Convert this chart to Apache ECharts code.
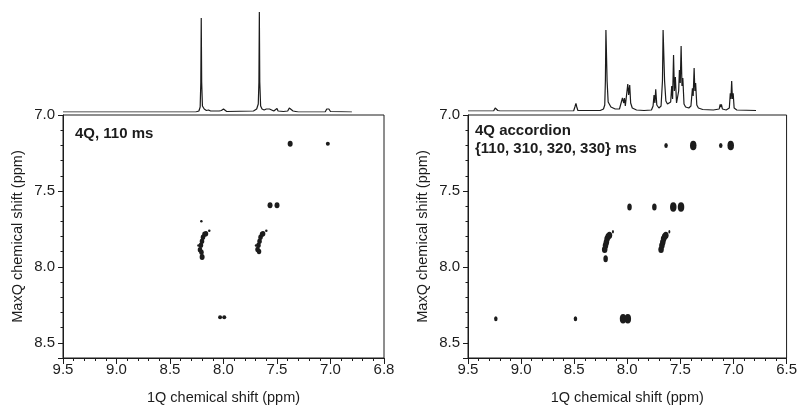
<!DOCTYPE html>
<html>
<head>
<meta charset="utf-8">
<script src="https://cdn.jsdelivr.net/npm/echarts@6/dist/echarts.min.js"></script>
<style>
html,body{margin:0;padding:0;background:#fff;}
#chart{width:800px;height:410px;}
</style>
</head>
<body>
<div id="chart"></div>
<script>
// ---- Data ----
const xTickValues = [9.5, 9.0, 8.5, 8.0, 7.5, 7.0, 6.5];
const leftXTickLabels = ['9.5', '9.0', '8.5', '8.0', '7.5', '7.0', '6.8'];
const rightXTickLabels = ['9.5', '9.0', '8.5', '8.0', '7.5', '7.0', '6.5'];
const yTickLabels = ['7.0', '7.5', '8.0', '8.5'];

const leftTitle = '4Q, 110 ms';
const rightTitle = ['4Q accordion', '{110, 310, 320, 330} ms'];
const xAxisTitle = '1Q chemical shift (ppm)';
const yAxisTitle = 'MaxQ chemical shift (ppm)';

// 1D projections [ppm, intensity]
const leftSpectrum = [
  [9.50,0],[9.245,0],[9.235,1.5],[9.225,0],
  [8.50,0],[8.49,1.5],[8.48,0],
  [8.26,0],[8.23,1],[8.218,5],[8.212,30],[8.208,94],[8.204,30],[8.197,6],[8.18,3],[8.16,1.5],[8.14,2],[8.12,1],[8.09,1],
  [8.04,1],[8.03,3],[8.02,1.5],[8.00,3],[7.99,1],[7.97,0.5],
  [7.72,1],[7.69,3],[7.675,8],[7.669,30],[7.665,100],[7.661,30],[7.653,6],[7.64,3],[7.62,2],[7.60,3],[7.59,1.5],[7.57,3],[7.56,1.5],[7.53,1],[7.50,3.5],[7.49,1],[7.44,0.5],
  [7.40,1],[7.385,4],[7.377,6],[7.37,4],[7.35,1],[7.30,0],
  [7.14,0],[7.13,1],[7.12,0],
  [7.05,0],[7.035,3],[7.025,5],[7.015,3],[7.00,0.5],[6.80,0]
];
const rightSpectrum = [
  [9.50,0],[9.26,0],[9.245,3],[9.238,5],[9.23,3],[9.22,0.5],[9.20,0],
  [8.63,0],[8.62,1],[8.61,0],
  [8.51,0],[8.498,4],[8.488,7.7],[8.48,4],[8.47,0.5],
  [8.26,0.5],[8.23,2],[8.218,6],[8.212,30],[8.207,81],[8.201,81],[8.196,30],[8.186,9],[8.16,4],[8.12,2],[8.08,2],
  [8.062,4],[8.052,13],[8.046,14],[8.04,8],[8.033,13],[8.025,5],[8.012,6],[8.002,27],[7.994,16],[7.984,26],[7.975,8],[7.96,3],[7.92,1],[7.85,0.5],
  [7.78,1],[7.765,5],[7.756,16],[7.748,8],[7.74,21.7],[7.73,6],[7.71,3],
  [7.69,5],[7.677,30],[7.671,81],[7.664,81],[7.657,30],[7.645,10],[7.63,7],[7.615,5],[7.60,9],[7.59,25],[7.582,12],[7.573,56],[7.565,20],[7.556,34],[7.545,8],[7.535,6],[7.525,20],[7.518,41],[7.51,28],[7.502,65],[7.494,25],[7.486,33],[7.475,7],[7.46,4],[7.43,3],
  [7.41,5],[7.396,22.7],[7.389,15],[7.38,43],[7.373,20],[7.366,28],[7.355,6],[7.34,3],[7.30,1.5],[7.20,1],
  [7.145,2],[7.136,6.7],[7.13,4],[7.124,6.7],[7.115,2],[7.08,1],
  [7.05,3],[7.041,17.7],[7.035,12],[7.028,30],[7.021,12],[7.014,17.7],[7.005,3],[6.98,1],[6.80,0.5]
];

// 2D cross peaks [1Q ppm, MaxQ ppm]
const leftLargePeaks = [[7.377,7.19],[7.565,7.595],[7.50,7.595],[8.20,7.935]];
const leftSmallPeaks = [[7.025,7.19],[8.032,8.331],[7.993,8.331]];
const leftTinyPeaks = [[8.207,7.70],[8.133,7.762],[7.60,7.762],[8.234,7.86],[7.696,7.86]];
const leftClusterPeaks = [
  [8.22,7.888],[8.211,7.857],[8.201,7.831],[8.192,7.805],[8.178,7.786],[8.164,7.782],[8.206,7.903],
  [7.682,7.885],[7.673,7.857],[7.663,7.831],[7.654,7.805],[7.640,7.786],[7.630,7.782],[7.668,7.898]
];
const rightLargePeaks = [[7.379,7.20],[7.026,7.20],[7.567,7.606],[7.494,7.606],[8.04,8.342],[7.995,8.342]];
const rightMediumPeaks = [[7.979,7.606],[7.745,7.606],[8.204,7.946]];
const rightSmallPeaks = [[7.635,7.20],[7.12,7.20],[9.238,8.342],[8.488,8.342]];
const rightTinyPeaks = [[8.135,7.769],[7.604,7.769]];
const rightClusterPeaks = [
  [8.213,7.885],[8.205,7.86],[8.197,7.838],[8.19,7.815],[8.18,7.80],[8.168,7.791],
  [7.682,7.885],[7.674,7.86],[7.666,7.838],[7.658,7.815],[7.648,7.80],[7.637,7.791]
];

// ---- Chart ----
const FONT = '"Liberation Sans", Arial, Helvetica, sans-serif';
const INK = '#1c1c1c';

function mainX(gridIndex, labels) {
  return {
    type: 'value', gridIndex: gridIndex, inverse: true,
    min: 6.5, max: 9.5, interval: 0.5,
    name: xAxisTitle, nameLocation: 'middle', nameGap: 32,
    nameTextStyle: {fontFamily: FONT, fontSize: 14.5, color: INK},
    axisLine: {show: true, onZero: false, lineStyle: {color: INK, width: 1}},
    axisTick: {show: true, length: 6, lineStyle: {color: INK}},
    minorTick: {show: true, splitNumber: 5, length: 3, lineStyle: {color: INK}},
    splitLine: {show: false},
    axisLabel: {
      fontFamily: FONT, fontSize: 15, color: INK, margin: 4,
      formatter: function (v) {
        const i = xTickValues.findIndex(t => Math.abs(t - v) < 1e-6);
        return i >= 0 ? labels[i] : '';
      }
    }
  };
}
function mainY(gridIndex) {
  return {
    type: 'value', gridIndex: gridIndex, inverse: true,
    min: 7.0, max: 8.6, interval: 0.5,
    name: yAxisTitle, nameLocation: 'middle', nameGap: 38,
    nameTextStyle: {fontFamily: FONT, fontSize: 14.5, color: INK},
    axisLine: {show: true, onZero: false, lineStyle: {color: INK, width: 1}},
    axisTick: {show: true, length: 5, lineStyle: {color: INK}},
    minorTick: {show: true, splitNumber: 5, length: 2.5, lineStyle: {color: INK}},
    splitLine: {show: false},
    axisLabel: {
      fontFamily: FONT, fontSize: 15, color: INK, margin: 8,
      formatter: function (v) {
        const s = v.toFixed(1);
        return (yTickLabels.indexOf(s) >= 0 && Math.abs(v * 2 - Math.round(v * 2)) < 1e-6) ? s : '';
      }
    }
  };
}
function specX(gridIndex) {
  return {type: 'value', gridIndex: gridIndex, inverse: true, min: 6.5, max: 9.5, show: false};
}
function specY(gridIndex) {
  return {type: 'value', gridIndex: gridIndex, min: 0, max: 100, show: false};
}
function peaks(data, xi, size) {
  return {
    type: 'scatter', xAxisIndex: xi, yAxisIndex: xi, data: data,
    symbol: 'circle', symbolSize: size,
    itemStyle: {color: INK, opacity: 1}, silent: true, animation: false
  };
}
function spectrum(data, idx) {
  return {
    type: 'line', xAxisIndex: idx, yAxisIndex: idx, data: data,
    showSymbol: false, symbol: 'none', smooth: false,
    lineStyle: {color: INK, width: 1.2}, silent: true, animation: false
  };
}

const chart = echarts.init(document.getElementById('chart'), null, {renderer: 'canvas'});
chart.setOption({
  backgroundColor: '#ffffff',
  animation: false,
  grid: [
    {left: 63, top: 115, width: 321, height: 246, show: true, borderColor: INK, borderWidth: 1, backgroundColor: 'transparent'},
    {left: 468, top: 115, width: 320, height: 246, show: true, borderColor: INK, borderWidth: 1, backgroundColor: 'transparent'},
    {left: 63, top: 12, width: 321, height: 100},
    {left: 468, top: 11, width: 320, height: 100}
  ],
  xAxis: [mainX(0, leftXTickLabels), mainX(1, rightXTickLabels), specX(2), specX(3)],
  yAxis: [mainY(0), mainY(1), specY(2), specY(3)],
  series: [
    peaks(leftLargePeaks, 0, [5, 6]),
    peaks(leftSmallPeaks, 0, [4, 4]),
    peaks(leftTinyPeaks, 0, [2.5, 2.5]),
    peaks(leftClusterPeaks, 0, [4.5, 5.5]),
    peaks(rightLargePeaks, 1, [6.5, 9.5]),
    peaks(rightMediumPeaks, 1, [4.5, 7]),
    peaks(rightSmallPeaks, 1, [3.5, 5]),
    peaks(rightTinyPeaks, 1, [2, 3.5]),
    peaks(rightClusterPeaks, 1, [5.5, 7]),
    spectrum(leftSpectrum, 2),
    spectrum(rightSpectrum, 3)
  ],
  graphic: [
    {type: 'text', left: 75, top: 126, style: {text: leftTitle, font: 'bold 15px ' + FONT, fill: INK}},
    {type: 'text', left: 475, top: 123, style: {text: rightTitle[0], font: 'bold 15px ' + FONT, fill: INK}},
    {type: 'text', left: 475, top: 141, style: {text: rightTitle[1], font: 'bold 15px ' + FONT, fill: INK}}
  ]
});
</script>
</body>
</html>
